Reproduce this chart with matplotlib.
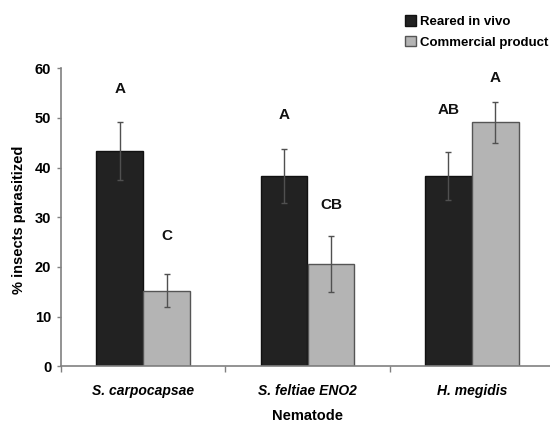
import matplotlib
matplotlib.use("Agg")
import matplotlib.pyplot as plt
import numpy as np

categories = ["S. carpocapsae", "S. feltiae ENO2", "H. megidis"]
series_names = ["Reared in vivo", "Commercial product"]
reared = [43.3, 38.3, 38.3]
reared_err = [5.8, 5.4, 4.9]
commercial = [15.2, 20.6, 49.1]
commercial_err = [3.3, 5.6, 4.1]
reared_letters = ["A", "A", "AB"]
reared_letter_y = [55.9, 50.6, 51.7]
commercial_letters = ["C", "CB", "A"]
commercial_letter_y = [26.3, 32.5, 58.1]
yticks = [0, 10, 20, 30, 40, 50, 60]

plt.rcParams['font.family'] = ['Liberation Sans', 'DejaVu Sans']

fig = plt.figure(figsize=(5.5, 4.22), dpi=100)
ax = fig.add_axes([61/550, 1-366.3/422, (554-61)/550, (366.3-68.3)/422])

x = np.arange(len(categories)) + 0.5
w = 0.286
axis_gray = "#808080"
err_color = "#505050"

b1 = ax.bar(x - w/2, reared, w, color="#222222", edgecolor="#111111", linewidth=1.0,
            label=series_names[0], zorder=2)
b2 = ax.bar(x + w/2, commercial, w, color="#b4b4b4", edgecolor="#555555", linewidth=1.0,
            label=series_names[1], zorder=2)
ax.errorbar(x - w/2, reared, yerr=reared_err, fmt="none", ecolor=err_color,
            elinewidth=1.0, capsize=2, capthick=1.0, zorder=3)
ax.errorbar(x + w/2, commercial, yerr=commercial_err, fmt="none", ecolor=err_color,
            elinewidth=1.0, capsize=2, capthick=1.0, zorder=3)

for xi, t, yv in zip(x - w/2, reared_letters, reared_letter_y):
    ax.text(xi, yv, t, ha="center", va="center", fontsize=11, fontweight="bold", color="#111111")
for xi, t, yv in zip(x + w/2, commercial_letters, commercial_letter_y):
    ax.text(xi, yv, t, ha="center", va="center", fontsize=11, fontweight="bold", color="#111111")

ax.set_xlim(0, 3)
ax.set_ylim(0, 60)
ax.set_yticks(yticks)
ax.set_yticklabels([str(v) for v in yticks], fontsize=10.5, fontweight="bold")
ax.set_xticks([0, 1, 2, 3])
ax.set_xticklabels([])
ax.set_xticks(x, minor=True)
ax.set_xticklabels(categories, minor=True, fontsize=10, fontweight="bold", style="italic")
ax.tick_params(axis="x", which="minor", length=0, pad=13)
ax.tick_params(axis="x", which="major", length=4, color=axis_gray, width=1)
ax.tick_params(axis="y", length=3, color=axis_gray, width=1, pad=4)

for s in ["top", "right"]:
    ax.spines[s].set_visible(False)
for s in ["left", "bottom"]:
    ax.spines[s].set_color(axis_gray)
    ax.spines[s].set_linewidth(1.2)

ax.set_ylabel("% insects parasitized", fontsize=10.5, fontweight="bold")
ax.yaxis.set_label_coords(-0.072, 0.49)
ax.set_xlabel("Nematode", fontsize=10.5, fontweight="bold", labelpad=8)

fig.legend(handles=[b1, b2], loc="upper left", bbox_to_anchor=(405/550, 1-15/422),
           frameon=False, prop={"weight": "bold", "size": 9.5},
           handlelength=0.85, handleheight=0.85, handletextpad=0.25, labelspacing=0.6,
           borderpad=0, borderaxespad=0)

fig.savefig("out.png", dpi=100)
